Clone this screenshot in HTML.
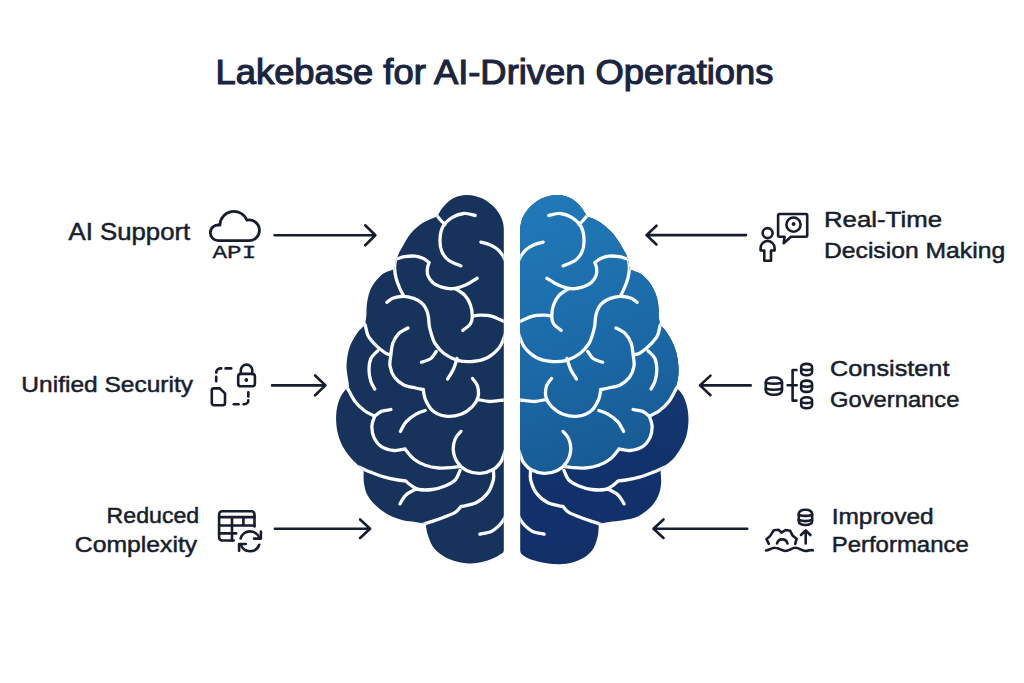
<!DOCTYPE html>
<html><head><meta charset="utf-8"><title>Lakebase for AI-Driven Operations</title>
<style>
html,body{margin:0;padding:0;background:#ffffff;}
body{width:1024px;height:683px;overflow:hidden;font-family:"Liberation Sans",sans-serif;}
svg{display:block;}
</style></head>
<body>
<svg width="1024" height="683" viewBox="0 0 1024 683">
<defs>
<clipPath id="cl"><path d="M503.8 229 C503.6 224.9 503.2 223 502.3 220.2 C501.4 217.4 500 214.8 498.4 212.4 C496.8 210 494.8 207.7 492.5 205.6 C490.2 203.5 487.5 201.2 484.7 199.7 C481.9 198.1 478.8 197.1 475.9 196.3 C473 195.5 470 195 467.1 195 C464.2 195 461.2 195.4 458.3 196.3 C455.4 197.2 452.1 198.8 449.5 200.7 C446.9 202.6 444.8 204.9 442.7 207.5 C440.6 210.1 438.1 215 437.2 216.5 C435.9 217 431.9 218.4 429.5 219.5 C427.1 220.6 424.7 221.6 422.5 223 C420.3 224.4 418.3 226.1 416.4 227.8 C414.5 229.5 412.7 231.2 411.1 233.1 C409.5 235 408 237.2 406.7 239.3 C405.4 241.4 404.4 243.4 403.2 245.4 C402 247.4 400.6 249.7 399.7 251.6 C398.8 253.5 398.2 255 397.5 256.8 C396.8 258.6 396.1 260.4 395.6 262.5 C395.1 264.6 394.7 268.1 394.5 269.2 C392.8 269.8 387.2 271.3 384.3 273 C381.4 274.7 379.2 276.9 377 279.5 C374.8 282.1 372.6 285.4 371.1 288.3 C369.6 291.2 368.9 294.2 368.2 297.1 C367.5 300 367 302.7 366.7 305.9 C366.4 309.1 366.6 312.9 366.3 316.1 C366 319.3 365.2 323.5 365 325 C363.9 326.1 360.3 329.2 358.4 331.4 C356.5 333.6 355.2 336 353.8 338.4 C352.4 340.8 351.2 342.9 350.2 345.5 C349.2 348.1 348.5 351 347.9 353.7 C347.3 356.4 346.9 359.2 346.7 361.9 C346.5 364.6 346.5 367.4 346.7 370.1 C346.9 372.8 347.5 375.6 347.9 378.3 C348.3 381 349 385.1 349.2 386.5 C345.7 389 342.6 393 341 396.1 C339.4 399.2 338.1 403 337.3 406.4 C336.5 409.8 336.2 413.2 336.1 416.6 C336 420 336.2 423.5 336.6 426.9 C337.1 430.3 337.7 433.7 338.8 437.1 C339.9 440.5 341.2 443.9 343.2 447.3 C345.1 450.7 347.8 454.4 350.5 457.6 C353.2 460.8 357.1 464.3 359.3 466.4 C361.5 468.5 362.9 469.4 363.6 470 C363.7 472.2 363.3 479.1 364 483.4 C364.7 487.7 365.7 491.9 367.8 495.7 C369.9 499.5 373.1 503 376.6 506.2 C380.1 509.4 384.5 512.6 388.9 515 C393.3 517.4 398.6 519.1 403 520.3 C407.4 521.5 411.5 521.4 415.3 522 C419.1 522.6 424.1 523.5 425.8 523.8 C426.1 526.5 426.4 530.7 427.6 534.3 C428.8 537.9 430.6 543.2 432.8 546.6 C435 550 438 552.3 441 554.5 C444 556.7 447.5 558.4 451 559.8 C454.5 561.2 458.6 562.2 462 562.8 C465.4 563.4 468 563.6 471.3 563.5 C474.6 563.4 478.4 562.8 482 562 C485.6 561.2 489.6 559.9 492.7 558.6 C495.8 557.3 498.6 555.6 500.5 554.2 C502.4 552.9 503.2 553.7 503.8 550.5 L503.8 229 Z"/></clipPath>
<clipPath id="cr"><path d="M520.2 229 C520.5 224.9 520.8 223 521.7 220.2 C522.6 217.4 524 214.8 525.6 212.4 C527.2 210 529.2 207.7 531.5 205.6 C533.8 203.5 536.5 201.2 539.3 199.7 C542.1 198.1 545.2 197.1 548.1 196.3 C551 195.5 554 195 556.9 195 C559.8 195 562.8 195.4 565.7 196.3 C568.6 197.2 571.9 198.8 574.5 200.7 C577.1 202.6 579.2 204.8 581.3 207.5 C583.4 210.2 586.2 215.2 587.2 216.8 C588.5 217.2 592.4 218.4 594.8 219.5 C597.2 220.6 599.6 222 601.8 223.5 C604 225 606.1 226.9 608 228.7 C609.9 230.4 611.7 232.1 613.3 234 C614.9 235.9 616.2 237.9 617.7 240.1 C619.2 242.3 620.8 245 622.1 247.2 C623.4 249.4 624.7 251.6 625.6 253.3 C626.5 255.1 626.8 256.1 627.3 257.7 C627.8 259.3 628.2 261 628.6 263 C629 265 629.4 268.4 629.5 269.5 C631.2 270.2 637 271.8 640 273.5 C643 275.2 645.2 277.4 647.5 280 C649.8 282.6 651.9 286 653.5 289 C655.1 292 656.2 295 657 298 C657.8 301 658.2 303.9 658.5 307 C658.8 310.1 658.6 313.6 658.8 316.5 C659 319.4 659.7 323.1 659.9 324.4 C660.8 325.4 663.6 328 665.2 330.2 C666.9 332.4 668.4 334.9 669.8 337.3 C671.2 339.7 672.3 341.8 673.4 344.3 C674.5 346.8 675.5 349.6 676.3 352.5 C677.1 355.4 677.6 359 678 361.9 C678.4 364.8 678.6 367.4 678.6 370.1 C678.6 372.8 678.4 375.8 678 378.3 C677.6 380.8 676.7 383.8 676.3 385.3 C675.9 386.8 675.9 387.1 675.8 387.5 C678.5 389.4 681.7 393 683.3 396.1 C684.9 399.2 686.1 403 687 406.4 C687.9 409.8 688.2 413.2 688.4 416.6 C688.6 420 688.5 423.2 688 426.9 C687.5 430.6 686.8 435 685.5 438.6 C684.2 442.2 682.5 445.4 680.4 448.8 C678.3 452.2 675.8 456.2 673.1 459.1 C670.4 462 666.4 464.6 664.3 466.4 C662.2 468.2 661.2 469.4 660.6 470 C660.7 472.5 661.5 480.5 661 485.1 C660.5 489.7 659.4 493.6 657.5 497.4 C655.6 501.2 653 504.8 649.6 508 C646.2 511.2 641.7 514.8 637.3 516.8 C632.9 518.8 627.9 519.4 623.2 520.3 C618.5 521.2 613.3 521.4 609.2 522 C605.1 522.6 600.5 523.5 598.7 523.8 C598.6 526.9 598.7 532.2 597.8 536.1 C596.9 540 595.6 544.9 593.4 548.4 C591.2 551.9 588.1 554.9 584.6 557.2 C581.1 559.5 576.4 561.2 572.3 562.4 C568.2 563.6 564 564 560 564.2 C556 564.4 551.7 564 548 563.5 C544.3 563 540.7 562.2 537.7 561.5 C534.7 560.8 532.2 560.1 529.8 559.1 C527.3 558.1 524.6 556.6 523 555.2 C521.4 553.8 520.7 553.9 520.2 550.5 L520.2 229 Z"/></clipPath>
<linearGradient id="gl" x1="540" y1="200" x2="640" y2="470" gradientUnits="userSpaceOnUse">
<stop offset="0" stop-color="#2179b8"/><stop offset="0.55" stop-color="#1b69a6"/><stop offset="1" stop-color="#175890"/>
</linearGradient>
<linearGradient id="gd" x1="0" y1="390" x2="0" y2="565" gradientUnits="userSpaceOnUse">
<stop offset="0" stop-color="#14366f"/><stop offset="0.4" stop-color="#12326c"/><stop offset="1" stop-color="#122f68"/>
</linearGradient>
</defs>
<rect width="1024" height="683" fill="#ffffff"/>
<text x="215.5" y="84.2" font-family="Liberation Sans" font-size="35" fill="#1b2540" stroke="#1b2540" stroke-width="1.15" textLength="558" lengthAdjust="spacingAndGlyphs">Lakebase for AI-Driven Operations</text>
<g clip-path="url(#cl)">
<rect x="330" y="180" width="180" height="400" fill="#17325b"/>
<path d="M436 214.5 C436.8 215.4 439 218.3 440.5 220 C442 221.7 444.2 223.8 445 224.5 M475.2 215.5 C473.3 215.2 467.6 213.2 463.8 213.5 C460 213.8 455.9 215.2 452.4 217.4 C448.9 219.6 444.9 223.1 442.8 226.9 C440.7 230.7 440.1 236.1 440 240.2 C439.9 244.3 440.5 248.3 441.9 251.6 C443.3 254.9 445.3 257.8 448.5 260.2 C451.7 262.6 458.8 264.9 460.9 265.9 M480.9 242.1 C482.5 242.6 487.5 243.7 490.4 245 C493.2 246.3 495.9 247.9 498 249.7 C500.1 251.5 501.7 253.9 503 256 C504.3 258.1 505.5 261 506 262 M392 260 C392.7 259.9 394.2 259.7 396.3 259.1 C398.4 258.6 401.4 257.2 404.5 256.7 C407.6 256.2 411.9 255.8 415 256.1 C418.1 256.4 420.9 257.4 423.3 258.5 C425.7 259.6 428.1 261.9 429.1 262.6 M429.1 262.6 C428.8 263.6 427.6 266.2 427.4 268.4 C427.2 270.5 427 273.1 427.9 275.5 C428.8 277.9 430.6 280.7 432.6 282.5 C434.6 284.3 436.7 285.5 440 286.5 C443.3 287.5 448.1 289 452.4 288.7 C456.7 288.4 461.6 286.6 465.7 284.9 C469.8 283.2 475.2 279.4 477.1 278.3 M395.5 259.5 C395.4 261 394.5 265.1 394.6 268.4 C394.7 271.6 395.4 275.7 396.3 279 C397.2 282.3 398.6 285.4 399.8 288.3 C401.1 291.2 403.1 294.9 403.8 296.2 M386.9 302.4 C387.9 301.7 390.4 299.3 392.8 298.3 C395.2 297.3 398.3 296.7 401 296.5 C403.7 296.3 406.5 296.5 409.2 297.1 C411.9 297.7 415 298.7 417.4 300 C419.8 301.3 421.7 302.9 423.3 304.7 C424.9 306.5 425.9 308.5 426.8 310.6 C427.7 312.8 428.1 315 428.5 317.6 C428.9 320.2 428.8 323.2 429.3 326 C429.8 328.8 430.6 331.6 431.5 334.5 C432.4 337.4 432.9 340.3 435 343.5 C437.1 346.7 440.2 350.7 444 353.5 C447.8 356.3 452.8 359 457.5 360.3 C462.2 361.6 467.4 362 472.5 361.5 C477.6 361 483.4 359.8 487.8 357.5 C492.2 355.2 496.3 351.2 499 348 C501.7 344.8 502.8 340.8 504 338 C505.2 335.2 505.7 332.2 506 331 M455.2 288.6 C456.8 289.7 462.2 292.5 464.7 295.2 C467.2 297.9 469.1 301.2 470.4 304.7 C471.7 308.2 472.3 313 472.3 316.2 C472.3 319.4 472 321.4 470.4 323.8 C468.8 326.2 464.1 329.3 462.8 330.4 M472.3 316.2 C473.6 316 476.7 315.2 479.9 315.2 C483.1 315.2 487.4 315.1 491.4 316.2 C495.4 317.2 501.2 320.4 504 321.5 C506.8 322.6 507.3 322.8 508 323 M362 320 C362.5 320.9 364.2 322.6 365.2 325.2 C366.2 327.8 366.4 332.4 368.1 335.7 C369.9 339 372.9 342.3 375.7 345.2 C378.5 348.1 382.7 351.2 385.2 352.8 C387.7 354.4 389.9 354.4 390.9 354.7 M408 328 C406.4 329 401 331.2 398.5 333.8 C396 336.4 394.1 339.8 392.8 343.3 C391.5 346.8 391.4 350.9 390.9 354.7 C390.4 358.5 389.4 362.3 390 366.1 C390.6 369.9 392.3 374.4 394.7 377.6 C397.1 380.8 400.7 383.5 404.2 385.2 C407.7 386.9 412.4 387.3 415.6 388 C418.8 388.7 422 389.2 423.3 389.5 M423.3 389.5 C423.6 391.1 423.7 395.5 425.2 399 C426.7 402.5 429 407.6 432.4 410.5 C435.8 413.4 440.9 415.6 445.7 416.2 C450.4 416.8 456.5 415.9 460.9 414.3 C465.3 412.7 469.4 409.5 472.3 406.6 C475.2 403.7 477.1 400.5 478 397.1 C478.9 393.7 478.4 389.1 477.5 386 C476.6 382.9 473.3 379.8 472.5 378.5 M377.6 350.9 C376.5 352.2 372.3 355.3 370.9 358.5 C369.5 361.7 369 366.1 369 369.9 C369 373.7 369.9 378.2 370.9 381.4 C371.8 384.6 374.1 387.7 374.7 389 M421.4 362.3 C423 361.7 428.4 360.3 430.9 358.5 C433.4 356.7 435.3 352.7 436.2 351.5 M447.6 379 C448.6 377.4 451.7 372.9 453.3 369.5 C454.9 366.1 456.5 360.3 457.1 358.5 M478 399.5 C479.9 399.8 485.2 401.4 489.5 401.5 C493.8 401.6 500.9 400.3 504 400 C507.1 399.7 507.3 399.6 508 399.5 M343 382 C343.7 382.9 345.2 384.5 347.1 387.6 C349.1 390.8 351.8 397.1 354.7 400.9 C357.6 404.7 361 407.9 364.3 410.5 C367.6 413.1 373 415.2 374.7 416.2 M374.7 416.2 C374.2 417.8 372 422.2 371.9 425.7 C371.8 429.2 372.2 433.6 373.8 437.1 C375.4 440.6 378 444.4 381.4 446.6 C384.8 448.8 390.1 450.1 394 450.5 C397.9 450.9 403.2 449.2 405 449 M405 449 C406.4 450.7 410.3 456.3 413.7 459 C417.1 461.7 421.1 463.7 425.2 465.2 C429.3 466.7 434.1 467.6 438.5 468 C442.9 468.4 448.2 467.9 451.8 467.6 C455.4 467.4 458.6 466.7 460 466.5 M374.7 416.2 C375.8 415.4 378.7 412.5 381.4 411.4 C384.1 410.3 389.3 409.8 390.9 409.5 M400.4 431.4 C401.3 429.8 403.6 424.8 406.1 421.9 C408.6 419 412.4 416.2 415.6 414.3 C418.8 412.4 423.6 411.1 425.2 410.5 M460.9 431.4 C459.9 432.7 456.5 435.8 455.2 439 C453.9 442.2 453 446.6 453.3 450.4 C453.6 454.2 454.9 458.5 457.1 461.8 C459.3 465.1 462.8 468.5 466.6 470.4 C470.4 472.3 475.4 473.4 479.9 473.3 C484.3 473.2 489.8 471.4 493.3 469.5 C496.8 467.6 499.1 464.4 500.9 461.8 C502.7 459.2 503.1 456.3 504 454 C504.9 451.7 505.7 449 506 448 M359 467 C359.9 467.4 362.2 468.6 364.3 469.5 C366.4 470.4 368 471.1 371.4 472.4 C374.8 473.7 380.2 475.8 384.7 477.1 C389.1 478.4 394.6 479.4 398.1 480 C401.6 480.6 404.4 480.8 405.7 480.9 M405.7 480.9 C406.6 481.7 409.2 484.3 411.4 485.7 C413.6 487.1 415.5 488.9 419 489.5 C422.5 490.1 427.9 490.1 432.3 489.5 C436.8 488.9 441.9 487.3 445.7 485.7 C449.5 484.1 452.8 482.5 455.2 480 C457.6 477.5 459.2 472.1 460 470.5 M400 503.8 C400.9 502.4 403.2 497.6 405.7 495.2 C408.2 492.8 413.6 490.4 415.2 489.5 M493.3 469.5 C493.3 471.2 494.3 476 493.3 480 C492.3 484 490.4 489.5 487.5 493.3 C484.6 497.1 480.5 500.6 476.1 502.8 C471.7 505 463.4 506 460.9 506.6 M460.9 506.6 C459.9 507.6 458.4 510.4 455.2 512.3 C452 514.2 446 516.4 441.9 518 C437.8 519.6 433.3 520.9 430.4 521.9 C427.5 522.9 426.4 523.3 424.7 523.8 C423 524.3 420.8 524.8 420 525 M479.9 534.2 C481.8 533.7 488.2 532.8 491.4 531.4 C494.6 530 496.9 527.8 499 525.7 C501.1 523.6 502.7 521.1 504 519 C505.3 516.9 506.5 514 507 513" fill="none" stroke="#fbfdff" stroke-width="3.3" stroke-linecap="round" stroke-linejoin="round"/>
</g>
<g clip-path="url(#cr)">
<rect x="515" y="180" width="190" height="400" fill="url(#gd)"/>
<path d="M700 150 L700 380 L681 382 L676.9 387.6 L669.3 400.9 L659.7 410.5 L649.3 416.2 L652.1 425.7 L650.2 437.1 L642.6 446.6 L630 450.5 L619 449 L610.3 459 L598.8 465.2 L585.5 468 L572.2 467.6 L564 466.5 L557.4 470.4 L544.1 473.3 L530.7 469.5 L523.1 461.8 L520 454 L518 448 L500 448 L500 150 Z" fill="url(#gl)"/>
<path d="M588 214.5 C587.2 215.4 585 218.3 583.5 220 C582 221.7 579.8 223.8 579 224.5 M548.8 215.5 C550.7 215.2 556.4 213.2 560.2 213.5 C564 213.8 568.1 215.2 571.6 217.4 C575.1 219.6 579.1 223.1 581.2 226.9 C583.3 230.7 583.9 236.1 584 240.2 C584.1 244.3 583.5 248.3 582.1 251.6 C580.7 254.9 578.7 257.8 575.5 260.2 C572.3 262.6 565.2 264.9 563.1 265.9 M543.1 242.1 C541.5 242.6 536.5 243.7 533.6 245 C530.8 246.3 528.1 247.9 526 249.7 C523.9 251.5 522.3 253.9 521 256 C519.7 258.1 518.5 261 518 262 M632 260 C631.3 259.9 629.8 259.7 627.7 259.1 C625.6 258.6 622.6 257.2 619.5 256.7 C616.4 256.2 612.1 255.8 609 256.1 C605.9 256.4 603.1 257.4 600.7 258.5 C598.4 259.6 595.9 261.9 594.9 262.6 M594.9 262.6 C595.2 263.6 596.4 266.2 596.6 268.4 C596.8 270.5 597 273.1 596.1 275.5 C595.2 277.9 593.4 280.7 591.4 282.5 C589.4 284.3 587.3 285.5 584 286.5 C580.7 287.5 575.9 289 571.6 288.7 C567.3 288.4 562.4 286.6 558.3 284.9 C554.2 283.2 548.8 279.4 546.9 278.3 M628.5 259.5 C628.6 261 629.5 265.1 629.4 268.4 C629.3 271.6 628.6 275.7 627.7 279 C626.8 282.3 625.5 285.4 624.2 288.3 C623 291.2 620.9 294.9 620.2 296.2 M637.1 302.4 C636.1 301.7 633.6 299.3 631.2 298.3 C628.9 297.3 625.7 296.7 623 296.5 C620.3 296.3 617.5 296.5 614.8 297.1 C612.1 297.7 609 298.7 606.6 300 C604.2 301.3 602.3 302.9 600.7 304.7 C599.1 306.5 598.1 308.5 597.2 310.6 C596.3 312.8 595.9 315 595.5 317.6 C595.1 320.2 595.2 323.2 594.7 326 C594.2 328.8 593.5 331.6 592.5 334.5 C591.5 337.4 591.1 340.3 589 343.5 C586.9 346.7 583.8 350.7 580 353.5 C576.2 356.3 571.2 359 566.5 360.3 C561.8 361.6 556.5 362 551.5 361.5 C546.5 361 540.6 359.8 536.2 357.5 C531.8 355.2 527.7 351.2 525 348 C522.3 344.8 521.2 340.8 520 338 C518.8 335.2 518.3 332.2 518 331 M568.8 288.6 C567.2 289.7 561.8 292.5 559.3 295.2 C556.8 297.9 554.9 301.2 553.6 304.7 C552.3 308.2 551.7 313 551.7 316.2 C551.7 319.4 552 321.4 553.6 323.8 C555.2 326.2 559.9 329.3 561.2 330.4 M551.7 316.2 C550.4 316 547.3 315.2 544.1 315.2 C540.9 315.2 536.6 315.1 532.6 316.2 C528.6 317.2 522.8 320.4 520 321.5 C517.2 322.6 516.7 322.8 516 323 M663.5 320 C663 320.9 661.3 322.6 660.3 325.2 C659.3 327.8 659.1 332.4 657.4 335.7 C655.6 339 652.6 342.3 649.8 345.2 C646.9 348.1 642.8 351.2 640.3 352.8 C637.8 354.4 635.5 354.4 634.6 354.7 M616 328 C617.6 329 623 331.2 625.5 333.8 C628 336.4 629.9 339.8 631.2 343.3 C632.5 346.8 632.6 350.9 633.1 354.7 C633.6 358.5 634.6 362.3 634 366.1 C633.4 369.9 631.7 374.4 629.3 377.6 C626.9 380.8 623.3 383.5 619.8 385.2 C616.3 386.9 611.6 387.3 608.4 388 C605.2 388.7 602 389.2 600.7 389.5 M600.7 389.5 C600.4 391.1 600.3 395.5 598.8 399 C597.3 402.5 595 407.6 591.6 410.5 C588.2 413.4 583 415.6 578.3 416.2 C573.5 416.8 567.5 415.9 563.1 414.3 C558.7 412.7 554.6 409.5 551.7 406.6 C548.9 403.7 546.9 400.5 546 397.1 C545.1 393.7 545.6 389.1 546.5 386 C547.4 382.9 550.7 379.8 551.5 378.5 M648.2 350.9 C649.3 352.2 653.5 355.3 654.9 358.5 C656.3 361.7 656.8 366.1 656.8 369.9 C656.8 373.7 655.9 378.2 654.9 381.4 C653.9 384.6 651.7 387.7 651.1 389 M602.6 362.3 C601 361.7 595.6 360.3 593.1 358.5 C590.6 356.7 588.7 352.7 587.8 351.5 M576.4 379 C575.5 377.4 572.3 372.9 570.7 369.5 C569.1 366.1 567.5 360.3 566.9 358.5 M546 399.5 C544.1 399.8 538.8 401.4 534.5 401.5 C530.2 401.6 523.1 400.3 520 400 C516.9 399.7 516.7 399.6 516 399.5 M681 382 C680.3 382.9 678.9 384.5 676.9 387.6 C674.9 390.8 672.2 397.1 669.3 400.9 C666.4 404.7 663 407.9 659.7 410.5 C656.4 413.1 651 415.2 649.3 416.2 M649.3 416.2 C649.8 417.8 652 422.2 652.1 425.7 C652.2 429.2 651.8 433.6 650.2 437.1 C648.6 440.6 646 444.4 642.6 446.6 C639.2 448.8 633.9 450.1 630 450.5 C626.1 450.9 620.8 449.2 619 449 M619 449 C617.5 450.7 613.7 456.3 610.3 459 C606.9 461.7 602.9 463.7 598.8 465.2 C594.7 466.7 589.9 467.6 585.5 468 C581.1 468.4 575.8 467.9 572.2 467.6 C568.6 467.4 565.4 466.7 564 466.5 M649.3 416.2 C648.2 415.4 645.3 412.5 642.6 411.4 C639.9 410.3 634.7 409.8 633.1 409.5 M623.6 431.4 C622.6 429.8 620.4 424.8 617.9 421.9 C615.4 419 611.6 416.2 608.4 414.3 C605.2 412.4 600.4 411.1 598.8 410.5 M563.1 431.4 C564 432.7 567.5 435.8 568.8 439 C570.1 442.2 571 446.6 570.7 450.4 C570.4 454.2 569.1 458.5 566.9 461.8 C564.7 465.1 561.2 468.5 557.4 470.4 C553.6 472.3 548.5 473.4 544.1 473.3 C539.7 473.2 534.2 471.4 530.7 469.5 C527.2 467.6 524.9 464.4 523.1 461.8 C521.3 459.2 520.9 456.3 520 454 C519.1 451.7 518.3 449 518 448 M665 467 C664.1 467.4 661.8 468.6 659.7 469.5 C657.6 470.4 656 471.1 652.6 472.4 C649.2 473.7 643.8 475.8 639.3 477.1 C634.8 478.4 629.4 479.4 625.9 480 C622.4 480.6 619.6 480.8 618.3 480.9 M618.3 480.9 C617.3 481.7 614.8 484.3 612.6 485.7 C610.4 487.1 608.5 488.9 605 489.5 C601.5 490.1 596.2 490.1 591.7 489.5 C587.2 488.9 582.1 487.3 578.3 485.7 C574.5 484.1 571.2 482.5 568.8 480 C566.4 477.5 564.8 472.1 564 470.5 M624 503.8 C623 502.4 620.8 497.6 618.3 495.2 C615.8 492.8 610.4 490.4 608.8 489.5 M530.7 469.5 C530.7 471.2 529.7 476 530.7 480 C531.7 484 533.6 489.5 536.5 493.3 C539.4 497.1 543.5 500.6 547.9 502.8 C552.3 505 560.6 506 563.1 506.6 M563.1 506.6 C564 507.6 565.6 510.4 568.8 512.3 C572 514.2 578 516.4 582.1 518 C586.2 519.6 590.7 520.9 593.6 521.9 C596.5 522.9 597.6 523.3 599.3 523.8 C601 524.3 603.2 524.8 604 525 M544.1 534.2 C542.2 533.7 535.8 532.8 532.6 531.4 C529.4 530 527.1 527.8 525 525.7 C522.9 523.6 521.3 521.1 520 519 C518.7 516.9 517.5 514 517 513" fill="none" stroke="#fbfdff" stroke-width="3.3" stroke-linecap="round" stroke-linejoin="round"/>
</g>
<g stroke="#171d2e" stroke-width="2.6" fill="none" stroke-linecap="round" stroke-linejoin="round">
<path d="M274.6 235.3 L375.4 235.3 M365.2 225.3 L375.4 235.3 L365.2 245.3"/>
<path d="M272.1 385.4 L325.4 385.4 M315.1 375.5 L325.4 385.4 L315.1 395.3"/>
<path d="M274.9 528.8 L370.1 528.8 M360.1 519.5 L370.1 528.8 L360.1 538"/>
<path d="M646.5 235.1 L746 235.1 M656.5 225.7 L646.5 235.1 L656.5 244.5"/>
<path d="M700 385.4 L750.7 385.4 M710.5 375.6 L700 385.4 L710.5 395.2"/>
<path d="M653.5 528.8 L747.2 528.8 M663.5 519.5 L653.5 528.8 L663.5 538"/>
</g>
<g stroke="#171d2e" stroke-width="2.6" fill="none" stroke-linecap="round" stroke-linejoin="round">

<path d="M218.3 240.6 A7.8 7.8 0 1 1 219.9 225.2 A14 14 0 0 1 246.9 220.2 A10.36 10.36 0 1 1 247.7 240.6 Z" stroke-width="2.8"/>


<rect x="238.2" y="373.9" width="16.7" height="12.4" rx="2.6"/>
<path d="M240.8 373.9 V370.4 A5.75 5.75 0 0 1 252.3 370.4 V373.9"/>
<circle cx="246.3" cy="380" r="1.9" fill="#171d2e" stroke="none"/>
<path d="M211.8 390.4 A2 2 0 0 1 213.8 388.4 L219.8 388.4 L225 393.4 L225 403 A2.2 2.2 0 0 1 222.8 405.2 L214 405.2 A2.2 2.2 0 0 1 211.8 403 Z"/>
<path d="M216.2 381.2 V376.8"/>
<path d="M216.2 372.6 A4.2 4.2 0 0 1 220.4 368.4 H221.2"/>
<path d="M225.6 368.4 H231.2"/>
<path d="M248.3 392.2 V396.4"/>
<path d="M248.3 400.4 A3.8 3.8 0 0 1 244.5 404.2 H243.6"/>
<path d="M238.6 404.2 H233.8"/>


<path d="M233.7 540.5 H222.1 A3 3 0 0 1 219.1 537.5 V514.3 A3 3 0 0 1 222.1 511.3 H251.5 A3 3 0 0 1 254.5 514.3 V526.4"/>
<path d="M219.1 517.1 H254.5 M219.1 525.5 H254.5 M219.1 533.4 H236.2 M232 517.1 V540.5 M243.4 517.1 V525.5"/>
<path d="M240.6 538.4 A9.8 9.8 0 0 1 259.4 538.4"/>
<path d="M260.9 531.6 V538.6 H254"/>
<path d="M259.2 544.8 A9.8 9.8 0 0 1 240.8 544.8"/>
<path d="M239.1 550.7 V544 H245.8"/>


<circle cx="767.6" cy="233.1" r="5"/>
<path d="M760.6 250.5 V248 A7 7 0 0 1 774.6 248 V250.5 H771 V260.7 H764.3 V250.5 Z"/>
<path d="M779.3 214 H806 A1.2 1.2 0 0 1 807.2 215.2 V235.5 A1.2 1.2 0 0 1 806 236.7 H791 L783.7 243.2 L784.6 236.7 H779.3 A1.2 1.2 0 0 1 778.1 235.5 V215.2 A1.2 1.2 0 0 1 779.3 214 Z"/>
<circle cx="793.5" cy="224.6" r="7.1"/>
<circle cx="793.6" cy="224" r="2" fill="#171d2e" stroke="none"/>

<rect x="765.8" y="377.5" width="16.2" height="17.3" rx="7.5" ry="4.4"/><path d="M765.8 382.8 Q773.9 384.8 782 382.8"/><path d="M765.8 388.7 Q773.9 390.7 782 388.7"/><path d="M796.5 370 H792.6 V400.6 H796.5 M787.6 385.3 H796.8"/><rect x="801.2" y="363.9" width="10.8" height="11.3" rx="5" ry="2.9"/><path d="M801.2 369.1 Q806.6 371.1 812 369.1"/><rect x="801.2" y="380.6" width="10.8" height="11.3" rx="5" ry="2.9"/><path d="M801.2 385.7 Q806.6 387.7 812 385.7"/><rect x="801.2" y="397.2" width="10.8" height="11" rx="5" ry="2.9"/><path d="M801.2 402.1 Q806.6 404.1 812 402.1"/>
<rect x="798.8" y="509.8" width="13.3" height="15.2" rx="6.1" ry="3.6"/><path d="M798.8 514.9 Q805.4 516.9 812.1 514.9"/><path d="M798.8 520.1 Q805.4 522.1 812.1 520.1"/><path d="M805.7 543.5 V531 M801 535 L805.7 530.3 L810.4 535"/><path d="M768.8 543.9 L766.5 539.2 L770.2 535.9 L773.8 530.3 L778.5 529.8 L781.6 532.6 L785.5 530 L790.2 530.8 L792.8 535.8 L796.6 538.8 L795.2 543.9"/><path d="M777 543.5 A5.4 5.4 0 0 1 787.5 543.5"/><path d="M766 550.5 C769 550.5 771.5 547.5 775.5 547.8 C779.5 548 781.5 551 785.5 551 C789.5 551 791.5 547.8 795.5 547.8 C799.5 547.8 801.5 551 805.5 551 C808.5 551 810 549.5 812.8 550.3"/>
</g>
<text x="212.6" y="258.3" font-family="Liberation Mono" font-size="18.5" fill="#171d2e" stroke="#171d2e" stroke-width="0.35" textLength="43.6" lengthAdjust="spacingAndGlyphs">API</text>
<g font-family="Liberation Sans" fill="#181e2e" stroke="#181e2e" stroke-width="0.5">
<text x="68.60" y="239.6" font-size="23.4" textLength="121.60" lengthAdjust="spacingAndGlyphs">AI Support</text>
<text x="21.38" y="392.0" font-size="22.6" textLength="171.62" lengthAdjust="spacingAndGlyphs">Unified Security</text>
<text x="106.64" y="523.4" font-size="22.6" textLength="92.59" lengthAdjust="spacingAndGlyphs">Reduced</text>
<text x="74.89" y="551.6" font-size="22.6" textLength="122.30" lengthAdjust="spacingAndGlyphs">Complexity</text>
<text x="823.95" y="227.0" font-size="22.8" textLength="118.08" lengthAdjust="spacingAndGlyphs">Real-Time</text>
<text x="823.97" y="257.7" font-size="22.6" textLength="181.16" lengthAdjust="spacingAndGlyphs">Decision Making</text>
<text x="830.09" y="375.6" font-size="22.6" textLength="119.32" lengthAdjust="spacingAndGlyphs">Consistent</text>
<text x="830.09" y="407.3" font-size="22.6" textLength="129.31" lengthAdjust="spacingAndGlyphs">Governance</text>
<text x="831.65" y="523.5" font-size="22.8" textLength="101.97" lengthAdjust="spacingAndGlyphs">Improved</text>
<text x="831.67" y="551.8" font-size="22.6" textLength="137.14" lengthAdjust="spacingAndGlyphs">Performance</text>
</g>
</svg>
</body></html>
